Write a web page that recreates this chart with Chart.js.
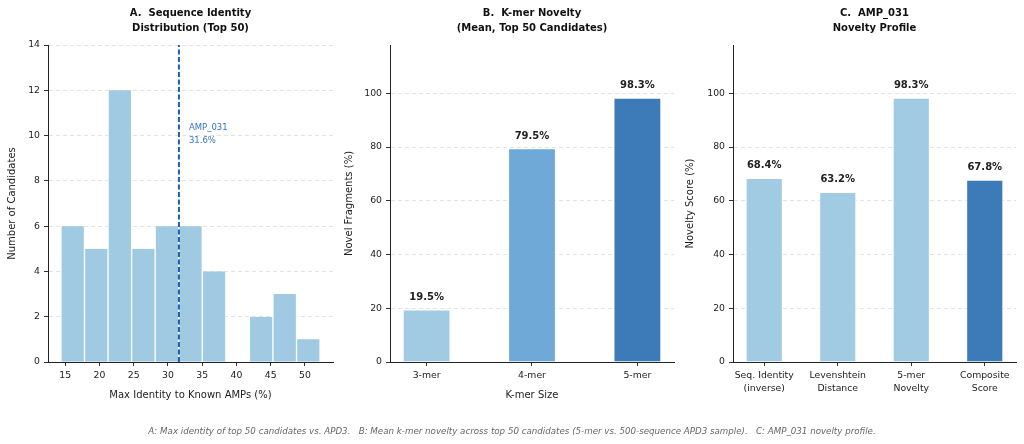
<!DOCTYPE html>
<html>
<head>
<meta charset="utf-8">
<script src="https://cdn.jsdelivr.net/npm/chart.js@4.4.1/dist/chart.umd.min.js"></script>
<style>
  body { margin: 0; background: #fff; width: 1024px; height: 444px; position: relative; overflow: hidden; }
  canvas { position: absolute; top: 0; }
  #caption { position: absolute; left: 0; width: 1024px; top: 426px; text-align: center;
    font: italic 8.7px "DejaVu Sans", sans-serif; color: #666; white-space: pre; }
</style>
</head>
<body>
<canvas id="chartA" width="340" height="444" style="left:0"></canvas>
<canvas id="chartB" width="340" height="444" style="left:340px"></canvas>
<canvas id="chartC" width="344" height="444" style="left:680px"></canvas>
<div id="caption">A: Max identity of top 50 candidates vs. APD3.   B: Mean k-mer novelty across top 50 candidates (5-mer vs. 500-sequence APD3 sample).   C: AMP_031 novelty profile.</div>

<script>
// panel A - histogram of max identity
const binEdges = [14.37, 17.81, 21.25, 24.69, 28.13, 31.57, 35.01, 38.45, 41.89, 45.33, 48.77, 52.21]
const binCounts = [6, 5, 12, 5, 6, 6, 4, 0, 2, 3, 1]
const amp031Identity = 31.6
const identityTicks = [15, 20, 25, 30, 35, 40, 45, 50]
const countTicks = [0, 2, 4, 6, 8, 10, 12, 14]

// panel B - k-mer novelty
const kmerLabels = ['3-mer', '4-mer', '5-mer']
const kmerNovelty = [19.5, 79.5, 98.3]
const kmerColors = ['#a0cbe2', '#6fa9d8', '#3d7ab8']

// panel C - AMP_031 profile
const profileLabels = [['Seq. Identity', '(inverse)'], ['Levenshtein', 'Distance'], ['5-mer', 'Novelty'], ['Composite', 'Score']]
const profileScores = [68.4, 63.2, 98.3, 67.8]
const profileColors = ['#a0cbe2', '#a0cbe2', '#a0cbe2', '#3d7ab8']

const percentTicks = [0, 20, 40, 60, 80, 100]

const FONT = '"DejaVu Sans", sans-serif'
Chart.defaults.font.family = FONT
Chart.defaults.color = '#222'
Chart.defaults.animation = false

const setTicks = list => scale => { scale.ticks = list.map(v => ({ value: v })) }

// titles centred over the plot area
const panelTitle = {
	id: 'panelTitle',
	afterDraw(chart, args, opts) {
		const { ctx, chartArea } = chart
		ctx.save()
		ctx.font = 'bold 10px ' + FONT
		ctx.fillStyle = '#111'
		ctx.textAlign = 'center'
		ctx.textBaseline = 'middle'
		const cx = (chartArea.left + chartArea.right) / 2
		opts.lines.forEach((t, i) => ctx.fillText(t, cx, 13 + i * 15))
		ctx.restore()
	},
}

const valueLabels = {
	id: 'valueLabels',
	afterDatasetsDraw(chart) {
		const { ctx } = chart
		const meta = chart.getDatasetMeta(0)
		const data = chart.data.datasets[0].data
		ctx.save()
		ctx.font = 'bold 10px ' + FONT
		ctx.fillStyle = '#222'
		ctx.textAlign = 'center'
		ctx.textBaseline = 'middle'
		meta.data.forEach((bar, i) => {
			ctx.fillText(data[i].y.toFixed(1) + '%', bar.x, bar.y - 12.5)
		})
		ctx.restore()
	},
}

const markerText = {
	id: 'markerText',
	afterDatasetsDraw(chart) {
		const { ctx, scales } = chart
		const x = scales.x.getPixelForValue(amp031Identity) + 10
		ctx.save()
		ctx.font = '8.5px ' + FONT
		ctx.fillStyle = '#3474c0'
		ctx.textAlign = 'left'
		ctx.textBaseline = 'middle'
		ctx.fillText('AMP_031', x, scales.y.getPixelForValue(10.33))
		ctx.fillText(amp031Identity.toFixed(1) + '%', x, scales.y.getPixelForValue(9.76))
		ctx.restore()
	},
}

function yAxis(title, max, ticks, width, titlePad) {
	return {
		min: 0,
		max: max,
		afterBuildTicks: setTicks(ticks),
		afterFit: s => { s.width = width },
		grid: { color: '#dcdcdc', lineWidth: 0.8, tickColor: '#333', tickLength: 4, tickWidth: 1 },
		border: { color: '#222', width: 1, dash: [4, 3] },
		ticks: { font: { size: 9.3 }, padding: 4, color: '#222' },
		title: { display: true, text: title, font: { size: 10 }, padding: { top: titlePad, bottom: 0 }, color: '#222' },
	}
}

function xAxis(title, min, max, ticks, labels) {
	return {
		type: 'linear',
		offset: false,
		min: min,
		max: max,
		afterBuildTicks: setTicks(ticks),
		afterFit: s => { s.height = 43 },
		grid: { offset: false, drawOnChartArea: false, color: '#333', tickColor: '#333', tickLength: 4 },
		border: { color: '#222', width: 1 },
		ticks: {
			font: { size: 9.3, lineHeight: 1.4 },
			padding: 3,
			color: '#222',
			maxRotation: 0,
			autoSkip: false,
			callback: v => (labels ? labels[v] : v),
		},
		title: { display: !!title, text: title, font: { size: 10 }, padding: { top: 0, bottom: 4 }, color: '#222' },
	}
}

function baseOptions(pad) {
	return {
		responsive: false,
		layout: { padding: pad },
		plugins: { legend: { display: false }, tooltip: { enabled: false } },
	}
}

// A
const binCentres = binCounts.map((c, i) => ({ x: (binEdges[i] + binEdges[i + 1]) / 2, y: c }))
const optsA = baseOptions({ left: 0, right: 7, top: 45, bottom: 39 })
optsA.plugins.panelTitle = { lines: ['A.  Sequence Identity', 'Distribution (Top 50)'] }
optsA.scales = {
	x: xAxis('Max Identity to Known AMPs (%)', 12.48, 54.1, identityTicks, null),
	y: yAxis('Number of Candidates', 14, countTicks, 48, 6),
}
new Chart(document.getElementById('chartA'), {
	data: {
		datasets: [
			{
				type: 'line',
				data: [{ x: amp031Identity, y: 0 }, { x: amp031Identity, y: 14 }],
				borderColor: '#1f5fab',
				borderWidth: 2,
				borderDash: [5, 2.5],
				pointRadius: 0,
				order: 0,
			},
			{
				type: 'bar',
				data: binCentres,
				backgroundColor: '#9fcae1',
				borderColor: '#ffffff',
				borderWidth: { left: 1, right: 1, top: 0, bottom: 0 },
				borderSkipped: false,
				barPercentage: 1,
				categoryPercentage: 1,
				order: 1,
			},
		],
	},
	options: optsA,
	plugins: [panelTitle, markerText],
})

// B
const optsB = baseOptions({ left: 0, right: 6, top: 45, bottom: 39 })
optsB.plugins.panelTitle = { lines: ['B.  K-mer Novelty', '(Mean, Top 50 Candidates)'] }
optsB.scales = {
	x: xAxis('K-mer Size', -0.3475, 2.3475, [0, 1, 2], kmerLabels),
	y: yAxis('Novel Fragments (%)', 118, percentTicks, 50, 3),
}
new Chart(document.getElementById('chartB'), {
	type: 'bar',
	data: {
		datasets: [
			{
				data: kmerNovelty.map((v, i) => ({ x: i, y: v })),
				backgroundColor: kmerColors,
				borderColor: '#ffffff',
				borderWidth: 0.8,
				barPercentage: 0.45,
				categoryPercentage: 1,
			},
		],
	},
	options: optsB,
	plugins: [panelTitle, valueLabels],
})

// C
const optsC = baseOptions({ left: 0, right: 8, top: 45, bottom: 39 })
optsC.plugins.panelTitle = { lines: ['C.  AMP_031', 'Novelty Profile'] }
optsC.scales = {
	x: xAxis('', -0.425, 3.425, [0, 1, 2, 3], profileLabels),
	y: yAxis('Novelty Score (%)', 118, percentTicks, 53, 4),
}
new Chart(document.getElementById('chartC'), {
	type: 'bar',
	data: {
		datasets: [
			{
				data: profileScores.map((v, i) => ({ x: i, y: v })),
				backgroundColor: profileColors,
				borderColor: '#ffffff',
				borderWidth: 0.8,
				barPercentage: 0.5,
				categoryPercentage: 1,
			},
		],
	},
	options: optsC,
	plugins: [panelTitle, valueLabels],
})
</script>
</body>
</html>
